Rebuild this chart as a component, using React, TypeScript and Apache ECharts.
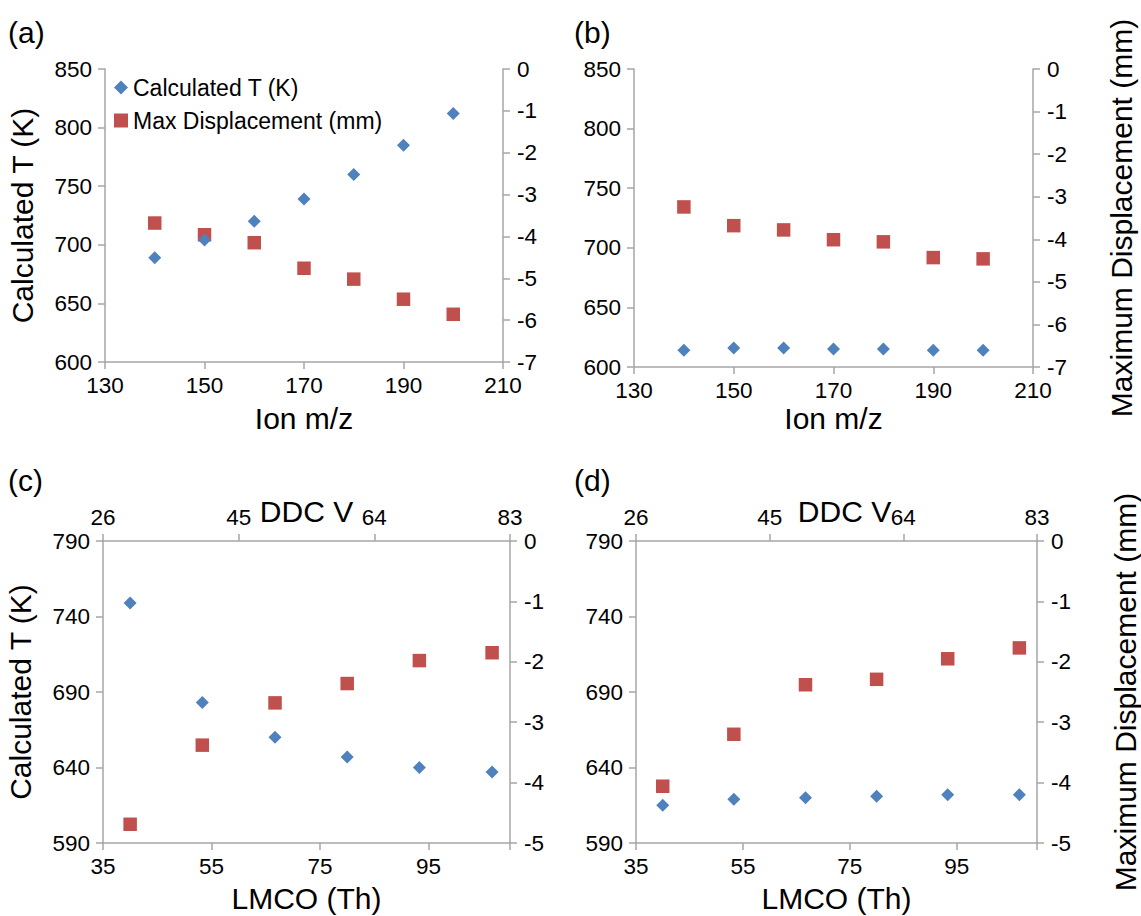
import React, { useEffect, useRef } from "react";
import * as echarts from "echarts";

// ---- Data ----
const ionMz = [140, 150, 160, 170, 180, 190, 200];
const tempA = [689, 704, 720, 739, 760, 785, 812];
const dispA = [-3.68, -3.96, -4.15, -4.76, -5.02, -5.5, -5.86];
const tempB = [614, 616, 616, 615, 615, 614, 614];
const dispB = [-3.24, -3.68, -3.78, -4.01, -4.06, -4.43, -4.46];

const lmco = [40, 53.3, 66.7, 80, 93.3, 106.7];
const tempC = [749, 683, 660, 647, 640, 637];
const dispC = [-4.69, -3.38, -2.68, -2.36, -1.98, -1.85];
const tempD = [615, 619, 620, 621, 622, 622];
const dispD = [-4.06, -3.2, -2.38, -2.29, -1.95, -1.77];

const ionTicks = [130, 150, 170, 190, 210];
const lmcoTicks = [35, 55, 75, 95];
const ddcTicks = [26, 45, 64, 83];
const tempTicksCD = [590, 640, 690, 740, 790];

const NAME_T = "Calculated T (K)";
const NAME_D = "Max Displacement (mm)";

const FONT = "Liberation Sans, Arial, Helvetica, sans-serif";
const AX = "#a6a6a6";
const BLUE = "#4f81bd";
const RED = "#c0504d";

const pair = (xs: number[], ys: number[]) => xs.map((x, i) => [x, ys[i]]);

function axisBase(extra: any) {
  const { labelMargin = 12, customValues, tickValues, namePadding, ...rest } = extra;
  const ax: any = {
    type: "value",
    axisLine: { show: true, onZero: false, lineStyle: { color: AX, width: 1.5 } },
    axisTick: { show: true, length: 7, inside: false, lineStyle: { color: AX, width: 1.5 } },
    axisLabel: { color: "#000", fontSize: 22.5, fontFamily: FONT, margin: labelMargin },
    splitLine: { show: false },
    nameLocation: "middle",
    nameMoveOverlap: false,
    nameTextStyle: { color: "#000", fontSize: 30, fontFamily: FONT },
    ...rest,
  };
  if (namePadding) ax.nameTextStyle.padding = namePadding;
  if (customValues) {
    ax.axisLabel.customValues = customValues;
    ax.axisTick.customValues = tickValues || customValues;
  }
  return ax;
}

export default function App() {
  const ref = useRef<HTMLDivElement>(null);
  useEffect(() => {
    if (!ref.current) return;
    const chart = echarts.init(ref.current, null, { renderer: "svg" });
    const grid = [
      { left: 105, top: 69, width: 398, height: 293 },
      { left: 634, top: 69, width: 399, height: 298 },
      { left: 103, top: 541, width: 407, height: 302 },
      { left: 636, top: 541, width: 414, height: 302 },
    ];
    const xAxis = [
      axisBase({ gridIndex: 0, position: "bottom", min: 130, max: 210, customValues: ionTicks, name: "Ion m/z", nameGap: 41 }),
      axisBase({ gridIndex: 1, position: "bottom", min: 130, max: 210, customValues: ionTicks, name: "Ion m/z", nameGap: 36 }),
      axisBase({ gridIndex: 2, position: "bottom", min: 35, max: 110, customValues: lmcoTicks, tickValues: [...lmcoTicks, 110], name: "LMCO (Th)", nameGap: 40 }),
      axisBase({ gridIndex: 2, position: "top", min: 26, max: 83, customValues: ddcTicks, name: "DDC V", nameGap: 15 }),
      axisBase({ gridIndex: 3, position: "bottom", min: 35, max: 110, customValues: lmcoTicks, tickValues: [...lmcoTicks, 110], name: "LMCO (Th)", nameGap: 40 }),
      axisBase({ gridIndex: 3, position: "top", min: 26, max: 83, customValues: ddcTicks, name: "DDC V", nameGap: 15, namePadding: [0, 0, 0, 16] }),
    ];
    const yAxis = [
      axisBase({ gridIndex: 0, position: "left", min: 600, max: 850, interval: 50, name: NAME_T, nameGap: 68, labelMargin: 13 }),
      axisBase({ gridIndex: 0, position: "right", min: -7, max: 0, interval: 1, labelMargin: 14 }),
      axisBase({ gridIndex: 1, position: "left", min: 600, max: 850, interval: 50, labelMargin: 13 }),
      axisBase({ gridIndex: 1, position: "right", min: -7, max: 0, interval: 1, labelMargin: 14, name: "Maximum Displacement (mm)", nameGap: 73 }),
      axisBase({ gridIndex: 2, position: "left", min: 590, max: 790, customValues: tempTicksCD, name: NAME_T, nameGap: 68, labelMargin: 13 }),
      axisBase({ gridIndex: 2, position: "right", min: -5, max: 0, interval: 1, labelMargin: 14 }),
      axisBase({ gridIndex: 3, position: "left", min: 590, max: 790, customValues: tempTicksCD, labelMargin: 13 }),
      axisBase({ gridIndex: 3, position: "right", min: -5, max: 0, interval: 1, labelMargin: 14, name: "Maximum Displacement (mm)", nameGap: 73 }),
    ];
    const blue = (xi: number, yi: number, data: number[][]) => ({
      type: "scatter", name: NAME_T, xAxisIndex: xi, yAxisIndex: yi, data,
      symbol: "diamond", symbolSize: 13, itemStyle: { color: BLUE, opacity: 1 },
    });
    const red = (xi: number, yi: number, data: number[][]) => ({
      type: "scatter", name: NAME_D, xAxisIndex: xi, yAxisIndex: yi, data,
      symbol: "rect", symbolSize: 13.5, itemStyle: { color: RED, opacity: 1 },
    });
    const labelText = (t: string, x: number, y: number) => ({
      type: "text", left: x, top: y,
      style: { text: t, fill: "#000", font: `30px ${FONT}` },
    });
    chart.setOption({
      animation: false,
      backgroundColor: "#fff",
      grid,
      xAxis,
      yAxis,
      legend: {
        left: 109, top: 71, orient: "vertical", itemWidth: 14, itemHeight: 14, itemGap: 10,
        textStyle: { fontSize: 23, fontFamily: FONT, color: "#000" },
        data: [
          { name: NAME_T, icon: "diamond" },
          { name: NAME_D, icon: "rect" },
        ],
      },
      graphic: [
        labelText("(a)", 8, 17),
        labelText("(b)", 574, 17),
        labelText("(c)", 8, 465),
        labelText("(d)", 574, 465),
      ],
      series: [
        red(0, 1, pair(ionMz, dispA)),
        blue(0, 0, pair(ionMz, tempA)),
        red(1, 3, pair(ionMz, dispB)),
        blue(1, 2, pair(ionMz, tempB)),
        red(2, 5, pair(lmco, dispC)),
        blue(2, 4, pair(lmco, tempC)),
        red(4, 7, pair(lmco, dispD)),
        blue(4, 6, pair(lmco, tempD)),
      ],
    });
    return () => chart.dispose();
  }, []);
  return (
    <div
      ref={ref}
      style={{ position: "absolute", left: 0, top: 0, width: 1141, height: 916, background: "#fff" }}
    />
  );
}
